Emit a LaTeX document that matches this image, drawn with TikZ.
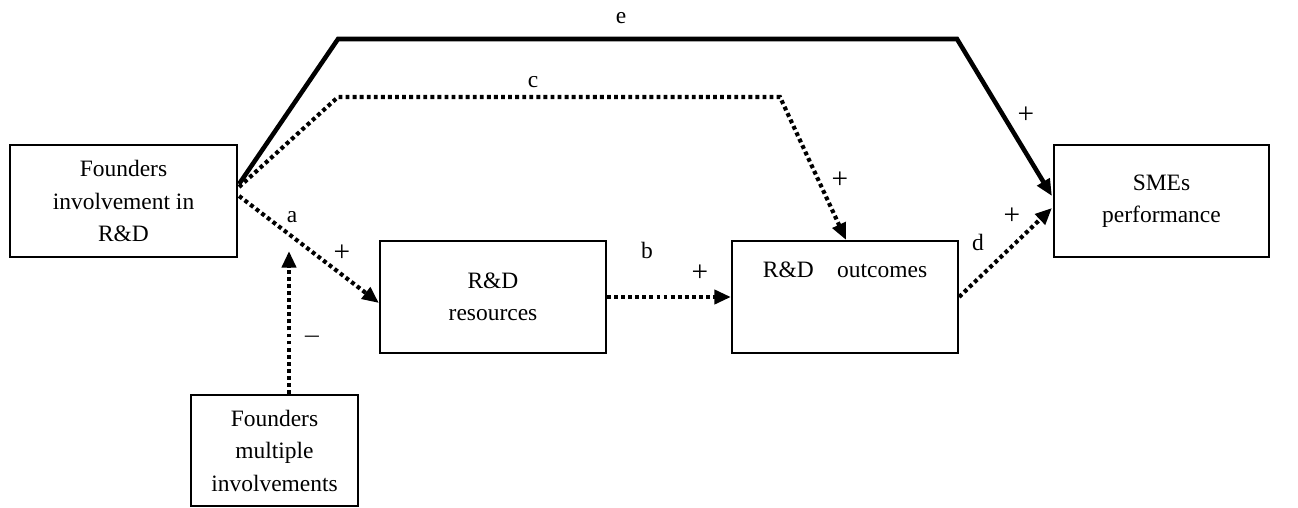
\documentclass[tikz,border=0pt]{standalone}
\usepackage{fontspec}
\setmainfont{Liberation Serif}
\usetikzlibrary{arrows.meta,calc}
\newcommand{\plussign}{\scalebox{1.25}{+}}
\begin{document}
\begin{tikzpicture}[x=0.75pt,y=-0.75pt,
  every node/.style={font=\fontsize{17.6pt}{24.4pt}\selectfont},
  box/.style={draw,line width=1.6pt,align=center,inner sep=0pt,
    minimum width=#1,minimum height=84pt},
  tip/.style={-{Triangle[length=12.5pt,width=10.5pt]}},
  dots/.style={line width=3.1pt,dash pattern=on 2.9pt off 2.4pt,tip},
  solidlink/.style={line width=3.4pt,tip},
  lbl/.style={inner sep=0pt}]
\useasboundingbox (0,0) rectangle (1298,507);

% boxes
\node[box=170.25pt] (fi) at (123.5,201) {Founders\\involvement in\\R\&D};
\node[box=169.5pt] (res) at (493,297) {R\&D\\resources};
\node[box=169.5pt,text height=27pt,text depth=57pt,minimum height=0pt] (out) at (845,297) {R\&D\quad outcomes};
\node[box=161.25pt] (sme) at (1161.5,201) {SMEs\\performance};
\node[box=125.25pt,minimum height=83.25pt] (mult) at (274.5,450.5) {Founders\\multiple\\involvements};

% route bends and moderator target
\coordinate (e1) at (338,39);
\coordinate (e2) at (957,39);
\coordinate (c1) at (338,97);
\coordinate (c2) at (780,97);
\coordinate (apath) at (289,251);

% connectors
\draw[solidlink] ($(fi.east)+(1,-17)$) -- (e1) -- (e2) -- ($(sme.west)+(-1,-5)$);
\draw[dots] ($(fi.east)+(1,-14)$) -- (c1) -- (c2) -- ($(out.north)+(1,0)$);
\draw[dots] ($(fi.east)+(1,-5)$) -- ($(res.west)+(0,6)$);
\draw[dots] (mult.north -| apath) -- (apath);
\draw[dots] (res.east) -- (out.west);
\draw[dots] (out.east) -- ($(sme.west)+(-1,7)$);

% path labels
\node[lbl] (le) at (621,18) {e};
\node[lbl] (lc) at (533,82) {c};
\node[lbl] (lcp) at (840,180) {\plussign};
\node[lbl] (lep) at (1026,115) {\plussign};
\node[lbl] (ld) at (978,242) {d};
\node[lbl] (ldp) at (1012,216) {\plussign};
\node[lbl] (la) at (292,217) {a};
\node[lbl] (lap) at (342,253) {\plussign};
\node[lbl] (lm) at (312,340) {\scalebox{1.3}[1]{\char"2212}};
\node[lbl] (lb) at (647,250) {b};
\node[lbl] (lbp) at (700,273) {\plussign};
\end{tikzpicture}
\end{document}
